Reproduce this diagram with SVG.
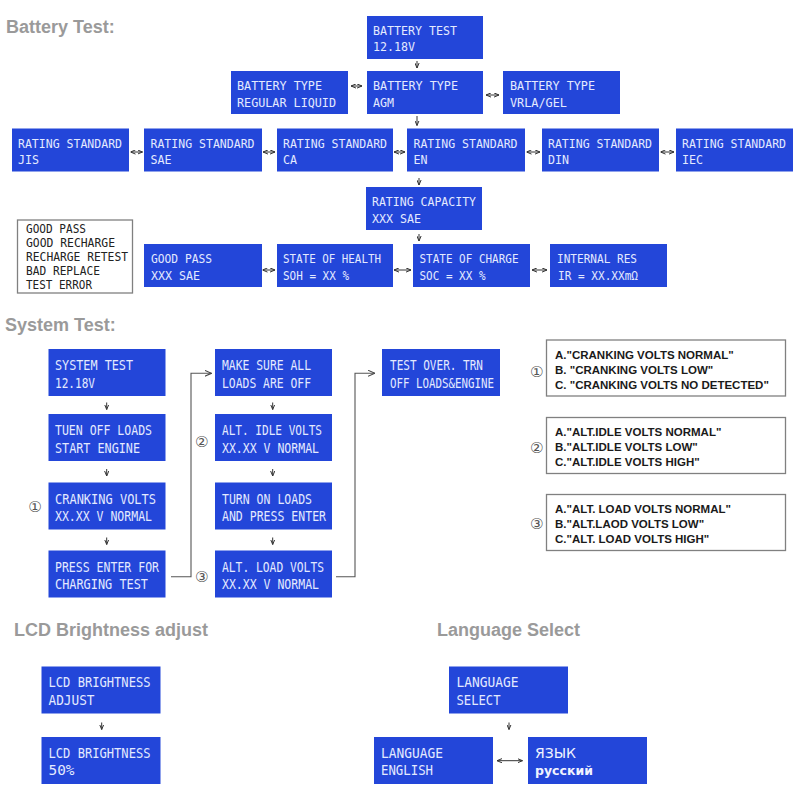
<svg xmlns="http://www.w3.org/2000/svg" width="800" height="800" viewBox="0 0 800 800">
<style>
.title{font-family:"Liberation Sans",Arial,sans-serif;font-weight:bold;font-size:18px;fill:#9a9a9a}
.box{fill:#2346d9}
.lcd{font-family:"DejaVu Sans Mono",monospace;font-size:13px;fill:#e4eaff}
.lcd2{font-family:"DejaVu Sans Mono",monospace;font-size:14.5px;fill:#e4eaff}
.lcd3{font-family:"DejaVu Sans Mono",monospace;font-size:14px;fill:#e4eaff}
.leg{font-family:"DejaVu Sans Mono",monospace;font-size:13px;fill:#222}
.legbox{fill:#fff;stroke:#808080;stroke-width:1.3}
.note{font-family:"Liberation Sans",Arial,sans-serif;font-weight:bold;font-size:11.5px;fill:#1a1a1a}
.num{font-family:"DejaVu Sans",sans-serif;font-size:15px;fill:#555;text-anchor:middle}
.ru{font-family:"DejaVu Sans","Noto Sans",sans-serif;fill:#f0f3ff}
.c{fill:none;stroke:#333;stroke-width:1}
.e{fill:none;stroke:#555;stroke-width:1.1}
</style>
<defs>
<marker id="ah" viewBox="0 0 6 6" refX="6" refY="3" markerWidth="5" markerHeight="5" markerUnits="userSpaceOnUse" orient="auto-start-reverse">
<path d="M0,0.5 L6,3 L0,5.5" fill="none" stroke="#333" stroke-width="1.2"/>
</marker>
<marker id="ah2" viewBox="0 0 8 8" refX="8" refY="4" markerWidth="7" markerHeight="7" markerUnits="userSpaceOnUse" orient="auto">
<path d="M0,0.5 L8,4 L0,7.5" fill="none" stroke="#444" stroke-width="1.2"/>
</marker>
</defs>
<rect width="800" height="800" fill="#fff"/>

<text class="title" x="6" y="33">Battery Test:</text>
<text class="title" x="5" y="331">System Test:</text>
<text class="title" x="14" y="636">LCD Brightness adjust</text>
<text class="title" x="437" y="636">Language Select</text>

<g id="bt_test"><rect class="box" x="367" y="16" width="116" height="43"/>
<text class="lcd" x="373" y="34.5" textLength="84" lengthAdjust="spacingAndGlyphs">BATTERY TEST</text>
<text class="lcd" x="373" y="51" textLength="42" lengthAdjust="spacingAndGlyphs">12.18V</text></g>

<g id="bt_regular"><rect class="box" x="231" y="71" width="117" height="43"/>
<text class="lcd" x="237" y="90" textLength="85" lengthAdjust="spacingAndGlyphs">BATTERY TYPE</text>
<text class="lcd" x="237" y="106.5" textLength="99" lengthAdjust="spacingAndGlyphs">REGULAR LIQUID</text></g>

<g id="bt_agm"><rect class="box" x="367" y="71" width="116" height="43"/>
<text class="lcd" x="373" y="90" textLength="85" lengthAdjust="spacingAndGlyphs">BATTERY TYPE</text>
<text class="lcd" x="373" y="106.5" textLength="21" lengthAdjust="spacingAndGlyphs">AGM</text></g>

<g id="bt_vrla"><rect class="box" x="503" y="71" width="117" height="43"/>
<text class="lcd" x="510" y="90" textLength="85" lengthAdjust="spacingAndGlyphs">BATTERY TYPE</text>
<text class="lcd" x="510" y="106.5" textLength="57" lengthAdjust="spacingAndGlyphs">VRLA/GEL</text></g>

<g id="rs_jis"><rect class="box" x="12" y="128.5" width="117" height="43"/>
<text class="lcd" x="18" y="147.5" textLength="104" lengthAdjust="spacingAndGlyphs">RATING STANDARD</text>
<text class="lcd" x="18" y="164" textLength="21" lengthAdjust="spacingAndGlyphs">JIS</text></g>

<g id="rs_sae"><rect class="box" x="144" y="128.5" width="118" height="43"/>
<text class="lcd" x="150.5" y="147.5" textLength="104" lengthAdjust="spacingAndGlyphs">RATING STANDARD</text>
<text class="lcd" x="150.5" y="164" textLength="21" lengthAdjust="spacingAndGlyphs">SAE</text></g>

<g id="rs_ca"><rect class="box" x="277" y="128.5" width="116" height="43"/>
<text class="lcd" x="283" y="147.5" textLength="104" lengthAdjust="spacingAndGlyphs">RATING STANDARD</text>
<text class="lcd" x="283" y="164" textLength="14" lengthAdjust="spacingAndGlyphs">CA</text></g>

<g id="rs_en"><rect class="box" x="407" y="128.5" width="118" height="43"/>
<text class="lcd" x="413.5" y="147.5" textLength="104" lengthAdjust="spacingAndGlyphs">RATING STANDARD</text>
<text class="lcd" x="413.5" y="164" textLength="14" lengthAdjust="spacingAndGlyphs">EN</text></g>

<g id="rs_din"><rect class="box" x="542" y="128.5" width="117" height="43"/>
<text class="lcd" x="548" y="147.5" textLength="104" lengthAdjust="spacingAndGlyphs">RATING STANDARD</text>
<text class="lcd" x="548" y="164" textLength="21" lengthAdjust="spacingAndGlyphs">DIN</text></g>

<g id="rs_iec"><rect class="box" x="676" y="128.5" width="117" height="43"/>
<text class="lcd" x="682" y="147.5" textLength="104" lengthAdjust="spacingAndGlyphs">RATING STANDARD</text>
<text class="lcd" x="682" y="164" textLength="21" lengthAdjust="spacingAndGlyphs">IEC</text></g>

<g id="rating_cap"><rect class="box" x="366" y="187" width="116" height="43"/>
<text class="lcd" x="372" y="206" textLength="104" lengthAdjust="spacingAndGlyphs">RATING CAPACITY</text>
<text class="lcd" x="372" y="222.5" textLength="49" lengthAdjust="spacingAndGlyphs">XXX SAE</text></g>

<g id="good_pass"><rect class="box" x="144" y="244" width="118" height="43"/>
<text class="lcd" x="151" y="263" textLength="61" lengthAdjust="spacingAndGlyphs">GOOD PASS</text>
<text class="lcd" x="151" y="279.5" textLength="49" lengthAdjust="spacingAndGlyphs">XXX SAE</text></g>

<g id="soh"><rect class="box" x="277" y="244" width="116" height="43"/>
<text class="lcd" x="283" y="263" textLength="98" lengthAdjust="spacingAndGlyphs">STATE OF HEALTH</text>
<text class="lcd" x="283" y="279.5" textLength="66" lengthAdjust="spacingAndGlyphs">SOH = XX %</text></g>

<g id="soc"><rect class="box" x="413" y="244" width="117" height="43"/>
<text class="lcd" x="419.5" y="263" textLength="99" lengthAdjust="spacingAndGlyphs">STATE OF CHARGE</text>
<text class="lcd" x="419.5" y="279.5" textLength="66" lengthAdjust="spacingAndGlyphs">SOC = XX %</text></g>

<g id="ir"><rect class="box" x="550" y="244" width="117" height="43"/>
<text class="lcd" x="557" y="263" textLength="80" lengthAdjust="spacingAndGlyphs">INTERNAL RES</text>
<text class="lcd" x="558" y="279.5" textLength="80" lengthAdjust="spacingAndGlyphs">IR = XX.XXmΩ</text></g>

<g id="result_legend"><rect class="legbox" x="17.5" y="220" width="115" height="73"/>
<text class="leg" x="26" y="233.3" textLength="60" lengthAdjust="spacingAndGlyphs">GOOD PASS</text>
<text class="leg" x="26" y="247.3" textLength="89" lengthAdjust="spacingAndGlyphs">GOOD RECHARGE</text>
<text class="leg" x="26" y="261.3" textLength="102" lengthAdjust="spacingAndGlyphs">RECHARGE RETEST</text>
<text class="leg" x="26" y="275" textLength="74" lengthAdjust="spacingAndGlyphs">BAD REPLACE</text>
<text class="leg" x="26" y="288.5" textLength="66" lengthAdjust="spacingAndGlyphs">TEST ERROR</text></g>

<g id="sys_test"><rect class="box" x="48.5" y="349" width="117" height="47"/>
<text class="lcd2" x="55" y="370" textLength="78" lengthAdjust="spacingAndGlyphs">SYSTEM TEST</text>
<text class="lcd2" x="55" y="387.5" textLength="40" lengthAdjust="spacingAndGlyphs">12.18V</text></g>

<g id="sys_turnoff"><rect class="box" x="48.5" y="414" width="117" height="47"/>
<text class="lcd2" x="55" y="435" textLength="97" lengthAdjust="spacingAndGlyphs">TUEN OFF LOADS</text>
<text class="lcd2" x="55" y="452.5" textLength="85" lengthAdjust="spacingAndGlyphs">START ENGINE</text></g>

<g id="sys_crank"><rect class="box" x="48.5" y="482.5" width="117" height="47"/>
<text class="lcd2" x="55" y="503.5" textLength="101" lengthAdjust="spacingAndGlyphs">CRANKING VOLTS</text>
<text class="lcd2" x="55" y="521" textLength="97" lengthAdjust="spacingAndGlyphs">XX.XX V NORMAL</text></g>

<g id="sys_press"><rect class="box" x="48.5" y="550.5" width="117" height="47"/>
<text class="lcd2" x="55" y="571.5" textLength="104" lengthAdjust="spacingAndGlyphs">PRESS ENTER FOR</text>
<text class="lcd2" x="55" y="589" textLength="93" lengthAdjust="spacingAndGlyphs">CHARGING TEST</text></g>

<g id="sys_makesure"><rect class="box" x="215" y="349" width="117" height="47"/>
<text class="lcd2" x="222" y="370" textLength="89" lengthAdjust="spacingAndGlyphs">MAKE SURE ALL</text>
<text class="lcd2" x="222" y="387.5" textLength="89" lengthAdjust="spacingAndGlyphs">LOADS ARE OFF</text></g>

<g id="sys_idle"><rect class="box" x="215" y="414" width="117" height="47"/>
<text class="lcd2" x="222" y="435" textLength="100" lengthAdjust="spacingAndGlyphs">ALT. IDLE VOLTS</text>
<text class="lcd2" x="222" y="452.5" textLength="97" lengthAdjust="spacingAndGlyphs">XX.XX V NORMAL</text></g>

<g id="sys_turnon"><rect class="box" x="215" y="482.5" width="117" height="47"/>
<text class="lcd2" x="222" y="503.5" textLength="90" lengthAdjust="spacingAndGlyphs">TURN ON LOADS</text>
<text class="lcd2" x="222" y="521" textLength="104" lengthAdjust="spacingAndGlyphs">AND PRESS ENTER</text></g>

<g id="sys_load"><rect class="box" x="215" y="550.5" width="117" height="47"/>
<text class="lcd2" x="222" y="571.5" textLength="102" lengthAdjust="spacingAndGlyphs">ALT. LOAD VOLTS</text>
<text class="lcd2" x="222" y="589" textLength="97" lengthAdjust="spacingAndGlyphs">XX.XX V NORMAL</text></g>

<g id="sys_over"><rect class="box" x="382" y="349" width="118" height="47"/>
<text class="lcd2" x="390" y="369.5" textLength="93" lengthAdjust="spacingAndGlyphs">TEST OVER. TRN</text>
<text class="lcd2" x="390" y="387.5" textLength="104" lengthAdjust="spacingAndGlyphs">OFF LOADS&amp;ENGINE</text></g>

<g id="note1"><rect class="legbox" x="546.5" y="340" width="239" height="56"/>
<text class="note" x="555" y="358.5">A."CRANKING VOLTS NORMAL"</text>
<text class="note" x="555" y="373.5">B. "CRANKING VOLTS LOW"</text>
<text class="note" x="555" y="388.5">C. "CRANKING VOLTS NO DETECTED"</text></g>

<g id="note2"><rect class="legbox" x="546.5" y="417.5" width="239" height="56"/>
<text class="note" x="555" y="436">A."ALT.IDLE VOLTS NORMAL"</text>
<text class="note" x="555" y="451">B."ALT.IDLE VOLTS LOW"</text>
<text class="note" x="555" y="466">C."ALT.IDLE VOLTS HIGH"</text></g>

<g id="note3"><rect class="legbox" x="546.5" y="494.5" width="239" height="56"/>
<text class="note" x="555" y="513">A."ALT. LOAD VOLTS NORMAL"</text>
<text class="note" x="555" y="528">B."ALT.LAOD VOLTS LOW"</text>
<text class="note" x="555" y="543">C."ALT. LOAD VOLTS HIGH"</text></g>

<g id="marks">
<text class="num" x="35" y="512">①</text>
<text class="num" x="201.7" y="447">②</text>
<text class="num" x="201.7" y="582">③</text>
<text class="num" x="536.7" y="376.5">①</text>
<text class="num" x="536.7" y="452.5">②</text>
<text class="num" x="536.7" y="528.5">③</text>
</g>

<g id="lcd_adjust"><rect class="box" x="41.5" y="666.5" width="119" height="47"/>
<text class="lcd3" x="48.5" y="687" textLength="102" lengthAdjust="spacingAndGlyphs">LCD BRIGHTNESS</text>
<text class="lcd3" x="48.5" y="704.5" textLength="46" lengthAdjust="spacingAndGlyphs">ADJUST</text></g>

<g id="lcd_50"><rect class="box" x="41.5" y="737" width="119" height="47"/>
<text class="lcd3" x="48.5" y="757.5" textLength="102" lengthAdjust="spacingAndGlyphs">LCD BRIGHTNESS</text>
<text class="lcd3" x="48.5" y="775" textLength="26" lengthAdjust="spacingAndGlyphs">50%</text></g>

<g id="lang_select"><rect class="box" x="449" y="666.5" width="119" height="47"/>
<text class="lcd3" x="456.5" y="687" textLength="62" lengthAdjust="spacingAndGlyphs">LANGUAGE</text>
<text class="lcd3" x="456.5" y="704.5" textLength="44" lengthAdjust="spacingAndGlyphs">SELECT</text></g>

<g id="lang_en"><rect class="box" x="374" y="737" width="119" height="47"/>
<text class="lcd3" x="381" y="757.5" textLength="62" lengthAdjust="spacingAndGlyphs">LANGUAGE</text>
<text class="lcd3" x="381" y="775" textLength="52" lengthAdjust="spacingAndGlyphs">ENGLISH</text></g>

<g id="lang_ru"><rect class="box" x="528" y="737" width="119" height="47"/>
<text class="ru" x="535" y="758" font-size="14">ЯЗЫК</text>
<text class="ru" x="535" y="775" font-size="12.5" font-weight="bold">русский</text></g>

<g id="connectors">
<path class="c" d="M417,61 V68" marker-end="url(#ah)"/>
<path class="c" d="M351,86 H362" marker-start="url(#ah)" marker-end="url(#ah)"/>
<path class="c" d="M486,95 H499" marker-start="url(#ah)" marker-end="url(#ah)"/>
<path class="c" d="M417,116 V125.5" marker-end="url(#ah)"/>
<path class="c" d="M130.5,152 H142.5" marker-start="url(#ah)" marker-end="url(#ah)"/>
<path class="c" d="M263,152 H275" marker-start="url(#ah)" marker-end="url(#ah)"/>
<path class="c" d="M394,152 H405" marker-start="url(#ah)" marker-end="url(#ah)"/>
<path class="c" d="M526.5,152 H540" marker-start="url(#ah)" marker-end="url(#ah)"/>
<path class="c" d="M660.5,152 H674" marker-start="url(#ah)" marker-end="url(#ah)"/>
<path class="c" d="M419,178 V185" marker-end="url(#ah)"/>
<path class="c" d="M419,234 V241" marker-end="url(#ah)"/>
<path class="c" d="M262.5,270 H275" marker-start="url(#ah)" marker-end="url(#ah)"/>
<path class="c" d="M394,270 H411" marker-start="url(#ah)" marker-end="url(#ah)"/>
<path class="c" d="M532,270 H547" marker-start="url(#ah)" marker-end="url(#ah)"/>
<path class="c" d="M106.7,402.5 V409.5" marker-end="url(#ah)"/>
<path class="c" d="M106.7,469 V476" marker-end="url(#ah)"/>
<path class="c" d="M106.7,537.5 V544.5" marker-end="url(#ah)"/>
<path class="c" d="M272.7,402.5 V409.5" marker-end="url(#ah)"/>
<path class="c" d="M272.7,469 V476" marker-end="url(#ah)"/>
<path class="c" d="M272.7,537.5 V544.5" marker-end="url(#ah)"/>
<path class="e" d="M171,576.7 H191 V373.3 H211.5" marker-end="url(#ah2)"/>
<path class="e" d="M336,576.7 H355 V373.3 H375" marker-end="url(#ah2)"/>
<path class="c" d="M101.7,722.5 V729.5" marker-end="url(#ah)"/>
<path class="c" d="M509,722.5 V729.5" marker-end="url(#ah)"/>
<path class="c" d="M497,760.7 H522.5" marker-start="url(#ah)" marker-end="url(#ah)"/>
</g>
</svg>
